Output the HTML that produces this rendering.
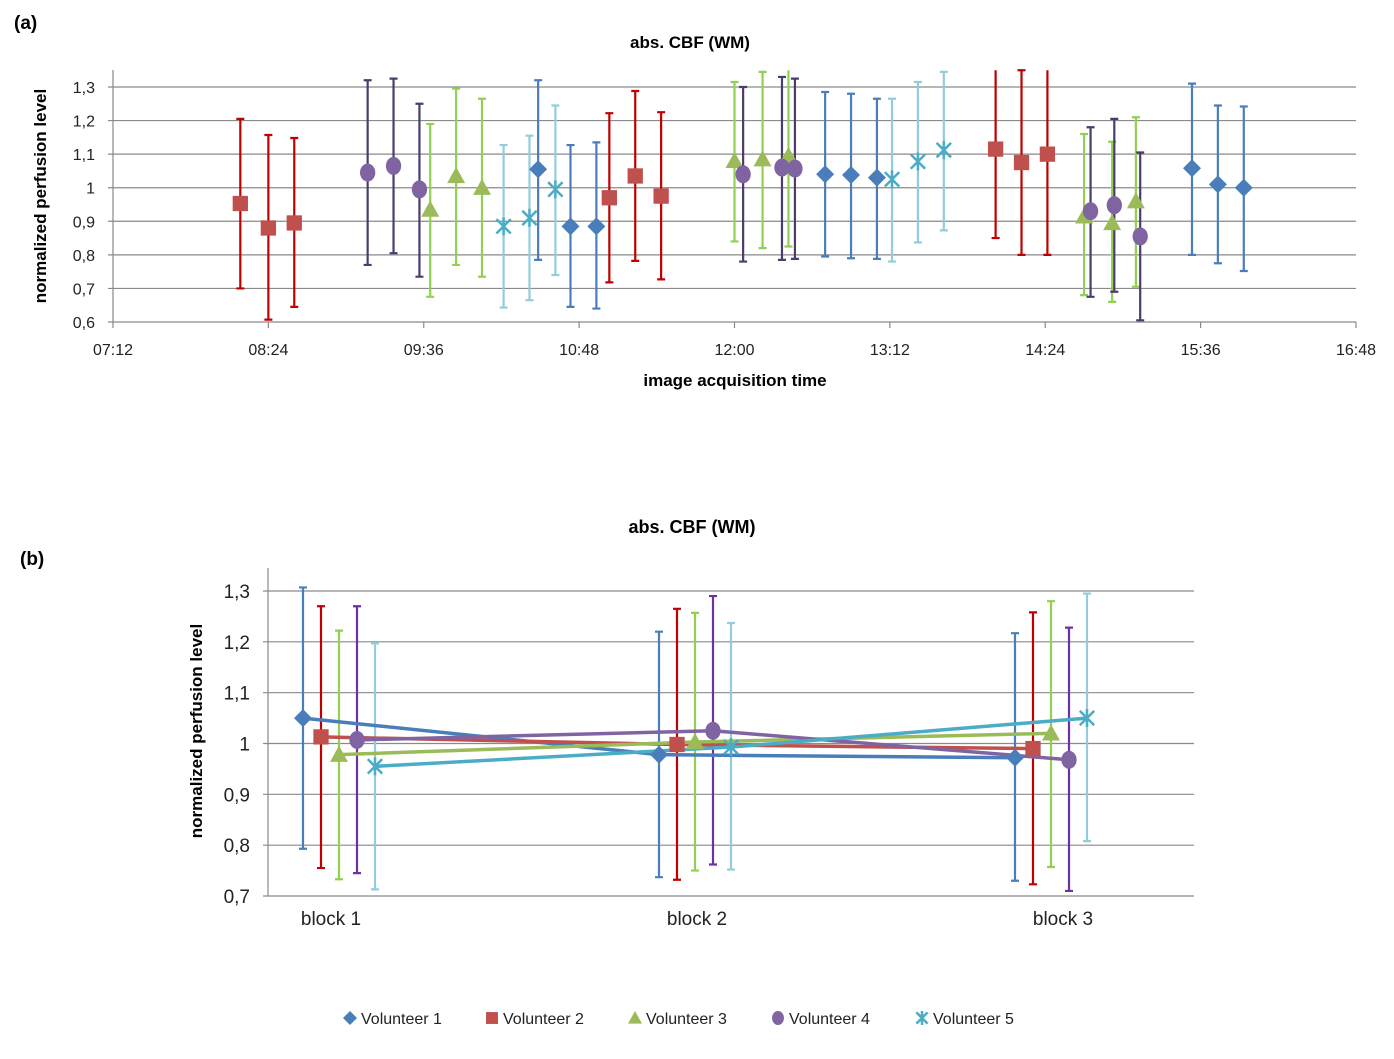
<!DOCTYPE html>
<html><head><meta charset="utf-8">
<style>
body{margin:0;background:#fff;}
svg{display:block;font-family:"Liberation Sans",sans-serif;}
</style></head>
<body>
<svg id="svg" width="1394" height="1059" viewBox="0 0 1394 1059">
<text x="14" y="29" font-size="19" font-weight="bold">(a)</text>
<text x="20" y="565" font-size="19" font-weight="bold">(b)</text>
<g id="ga"></g>
<g id="gb"></g>
<g id="legend"></g>
</svg>
<script>
// ---- chart (a) data: times in minutes since midnight ----
const v1Time=[629,644,656,762,774,786,932,944,956];
const v1Val=[1.055,0.885,0.885,1.04,1.038,1.03,1.058,1.01,1.0];
const v1Hi=[1.32,1.127,1.135,1.285,1.28,1.265,1.31,1.245,1.242];
const v1Lo=[0.785,0.645,0.64,0.795,0.79,0.788,0.80,0.775,0.752];
const v2Time=[491,504,516,662,674,686,841,853,865];
const v2Val=[0.953,0.88,0.895,0.97,1.035,0.975,1.115,1.075,1.10];
const v2Hi=[1.205,1.157,1.148,1.222,1.288,1.225,1.38,1.35,1.38];
const v2Lo=[0.70,0.607,0.645,0.718,0.782,0.727,0.85,0.80,0.80];
const v3Time=[579,591,603,720,733,745,882,895,906];
const v3Val=[0.935,1.035,1.0,1.08,1.085,1.095,0.915,0.895,0.96];
const v3Hi=[1.19,1.295,1.265,1.315,1.345,1.355,1.16,1.137,1.21];
const v3Lo=[0.675,0.77,0.735,0.84,0.82,0.825,0.68,0.66,0.705];
const v4Time=[550,562,574,724,742,748,885,896,908];
const v4Val=[1.045,1.065,0.995,1.04,1.06,1.057,0.93,0.948,0.855];
const v4Hi=[1.32,1.325,1.25,1.30,1.33,1.325,1.18,1.205,1.105];
const v4Lo=[0.77,0.805,0.735,0.78,0.785,0.788,0.675,0.69,0.605];
const v5Time=[613,625,637,793,805,817];
const v5Val=[0.885,0.91,0.995,1.025,1.078,1.112];
const v5Hi=[1.127,1.155,1.245,1.265,1.315,1.345];
const v5Lo=[0.643,0.665,0.74,0.78,0.837,0.873];
const aTicksX=[432,504,576,648,720,792,864,936,1008];
const aTicksXLabels=["07:12","08:24","09:36","10:48","12:00","13:12","14:24","15:36","16:48"];
const aTicksY=[0.6,0.7,0.8,0.9,1.0,1.1,1.2,1.3];
const aTicksYLabels=["0,6","0,7","0,8","0,9","1","1,1","1,2","1,3"];
// ---- chart (b) data ----
const blocks=["block 1","block 2","block 3"];
const b1Val=[1.05,0.978,0.972],b1Hi=[1.307,1.22,1.217],b1Lo=[0.793,0.737,0.73];
const b2Val=[1.013,0.998,0.99],b2Hi=[1.27,1.265,1.258],b2Lo=[0.755,0.732,0.723];
const b3Val=[0.978,1.003,1.02],b3Hi=[1.222,1.257,1.28],b3Lo=[0.733,0.75,0.757];
const b4Val=[1.007,1.025,0.968],b4Hi=[1.27,1.29,1.228],b4Lo=[0.745,0.762,0.71];
const b5Val=[0.955,0.993,1.05],b5Hi=[1.197,1.237,1.295],b5Lo=[0.713,0.752,0.808];
const bTicksY=[0.7,0.8,0.9,1.0,1.1,1.2,1.3];
const bTicksYLabels=["0,7","0,8","0,9","1","1,1","1,2","1,3"];
const seriesNames=["Volunteer 1","Volunteer 2","Volunteer 3","Volunteer 4","Volunteer 5"];

const NS="http://www.w3.org/2000/svg";
function mk(parent,tag,attrs,txt){const e=document.createElementNS(NS,tag);for(const k in attrs)e.setAttribute(k,attrs[k]);if(txt!==undefined)e.textContent=txt;parent.appendChild(e);return e;}
const markerCol=["#4A7EBB","#C0504D","#9BBB59","#8064A2","#4BACC6"];
const barColA=["#4A7EBB","#C00000","#92D050","#4B3C6E","#93CDDD"];
const barColB=["#4A7EBB","#C00000","#92D050","#7030A0","#93CDDD"];
function marker(g,s,x,y,sz){
  let e;
  if(s===0){e=mk(g,'path',{d:`M${x} ${y-sz} L${x+sz} ${y} L${x} ${y+sz} L${x-sz} ${y} Z`,fill:markerCol[0]});}
  else if(s===1){e=mk(g,'rect',{x:x-sz*0.85,y:y-sz*0.85,width:sz*1.7,height:sz*1.7,fill:markerCol[1]});}
  else if(s===2){e=mk(g,'path',{d:`M${x} ${y-sz} L${x+sz} ${y+sz*0.8} L${x-sz} ${y+sz*0.8} Z`,fill:markerCol[2]});}
  else if(s===3){e=mk(g,'ellipse',{cx:x,cy:y,rx:sz*0.85,ry:sz,fill:markerCol[3]});}
  else {e=mk(g,'path',{d:`M${x-sz*0.8} ${y-sz*0.8} L${x+sz*0.8} ${y+sz*0.8} M${x+sz*0.8} ${y-sz*0.8} L${x-sz*0.8} ${y+sz*0.8} M${x} ${y-sz} L${x} ${y+sz}`,stroke:markerCol[4],'stroke-width':2.5,fill:'none'});}
  
  
}
function errbar(g,x,yh,yl,col,w,capTop){
  const d=`M${x} ${yh} L${x} ${yl} M${x-4} ${yl} L${x+4} ${yl}`+(capTop?` M${x-4} ${yh} L${x+4} ${yh}`:'');
  const e=mk(g,'path',{d:d,stroke:col,'stroke-width':w,fill:'none'});
  
  
}
// ---- chart a ----
(function(){
  const g=document.getElementById('ga');
  const X=t=>113+(t-432)*(1243/576);
  const Y=v=>322-(v-0.6)*(235/0.7);
  const tt=mk(g,'text',{x:690,y:48,'font-size':17,'font-weight':'bold','text-anchor':'middle'},'abs. CBF (WM)');
  
  aTicksY.forEach((v,i)=>{
    const l=mk(g,'line',{x1:108,x2:1356,y1:Y(v),y2:Y(v),stroke:'#8a8a8a','stroke-width':1.2});
    
    const t=mk(g,'text',{x:95,y:Y(v)+6,'font-size':16,'text-anchor':'end',fill:'#222'},aTicksYLabels[i]);
    
  });
  const ax=mk(g,'line',{x1:113,x2:113,y1:70,y2:322,stroke:'#8a8a8a','stroke-width':1.2});
  
  aTicksX.forEach((t,i)=>{
    const l=mk(g,'line',{x1:X(t),x2:X(t),y1:322,y2:328,stroke:'#8a8a8a','stroke-width':1.2});
    
    const tx=mk(g,'text',{x:X(t),y:355,'font-size':16,'text-anchor':'middle',fill:'#222'},aTicksXLabels[i]);
    
  });
  const xt=mk(g,'text',{x:735,y:386,'font-size':17,'font-weight':'bold','text-anchor':'middle'},'image acquisition  time');
  
  const yt=mk(g,'text',{x:0,y:0,'font-size':17,'font-weight':'bold','text-anchor':'middle',transform:'translate(46,196) rotate(-90)'},'normalized perfusion level');
  
  const S=[[v1Time,v1Val,v1Hi,v1Lo],[v2Time,v2Val,v2Hi,v2Lo],[v3Time,v3Val,v3Hi,v3Lo],[v4Time,v4Val,v4Hi,v4Lo],[v5Time,v5Val,v5Hi,v5Lo]];
  const TOP=1.35;
  S.forEach((s,si)=>{s[0].forEach((t,i)=>{const h=s[2][i];errbar(g,X(t),Y(Math.min(h,TOP)),Y(s[3][i]),barColA[si],2.2,h<=TOP);});});
  S.forEach((s,si)=>{s[0].forEach((t,i)=>{marker(g,si,X(t),Y(s[1][i]),9);});});
})();
// ---- chart b ----
(function(){
  const g=document.getElementById('gb');
  const C=i=>339+356*i;
  const L=i=>331+366*i;
  const Y=v=>896-(v-0.7)*(305/0.6);
  const tt=mk(g,'text',{x:692,y:533,'font-size':18,'font-weight':'bold','text-anchor':'middle'},'abs. CBF (WM)');
  
  bTicksY.forEach((v,i)=>{
    const l=mk(g,'line',{x1:263,x2:1194,y1:Y(v),y2:Y(v),stroke:'#8a8a8a','stroke-width':1.2});
    
    const t=mk(g,'text',{x:250,y:Y(v)+7,'font-size':19,'text-anchor':'end',fill:'#222'},bTicksYLabels[i]);
    
  });
  const ax=mk(g,'line',{x1:268,x2:268,y1:568,y2:896,stroke:'#8a8a8a','stroke-width':1.2});
  
  blocks.forEach((b,i)=>{
    const t=mk(g,'text',{x:L(i),y:925,'font-size':19,'text-anchor':'middle',fill:'#222'},b);
    
  });
  const yt=mk(g,'text',{x:0,y:0,'font-size':17,'font-weight':'bold','text-anchor':'middle',transform:'translate(202,731) rotate(-90)'},'normalized perfusion level');
  
  const S=[[b1Val,b1Hi,b1Lo],[b2Val,b2Hi,b2Lo],[b3Val,b3Hi,b3Lo],[b4Val,b4Hi,b4Lo],[b5Val,b5Hi,b5Lo]];
  const px=(si,i)=>C(i)+(si-2)*18;
  S.forEach((s,si)=>{s[0].forEach((v,i)=>errbar(g,px(si,i),Y(s[1][i]),Y(s[2][i]),barColB[si],2.2,true));});
  S.forEach((s,si)=>{
    const d=s[0].map((v,i)=>(i?'L':'M')+px(si,i)+' '+Y(v)).join(' ');
    const p=mk(g,'path',{d:d,stroke:markerCol[si],'stroke-width':3.5,fill:'none'});
    
    
  });
  S.forEach((s,si)=>{s[0].forEach((v,i)=>marker(g,si,px(si,i),Y(v),9));});
})();
// ---- legend ----
(function(){
  const g=document.getElementById('legend');
  const lx=[350,492,635,778,922];
  seriesNames.forEach((n,i)=>{
    const gg=mk(g,'g',{});
    
    
    marker(gg,i,lx[i],1018,7);
    mk(gg,'text',{x:lx[i]+11,y:1024,'font-size':16,fill:'#222'},n);
  });
})();
</script>
</body></html>
